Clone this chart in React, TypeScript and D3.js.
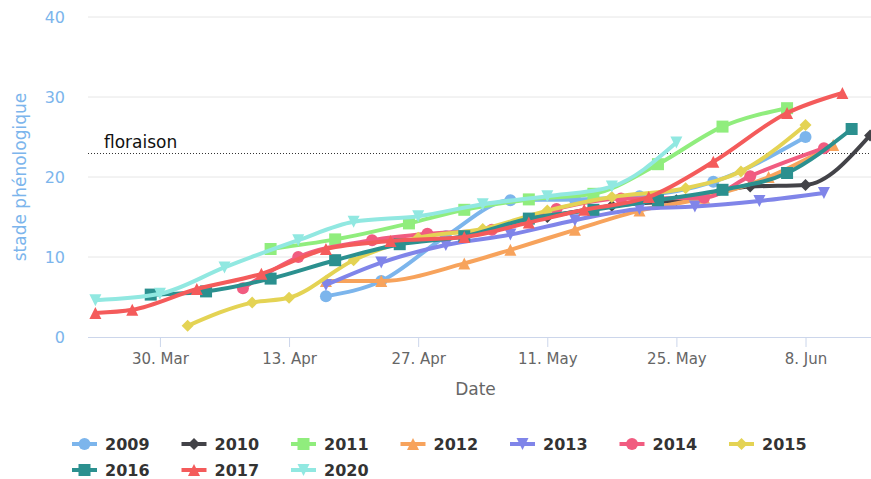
import React, { useEffect, useRef } from "react";
import * as d3 from "d3";

// data, dates normalised to 2020
const s2009 = [["2020-04-17", 5.1], ["2020-04-23", 7], ["2020-04-30", 12.6], ["2020-05-07", 17.1], ["2020-05-14", 17.2], ["2020-05-21", 17.6], ["2020-05-29", 19.4], ["2020-06-08", 25]];
const s2010 = [["2020-05-11", 15], ["2020-05-18", 16.4], ["2020-05-25", 17.1], ["2020-06-02", 18.8], ["2020-06-08", 19], ["2020-06-15", 25.2]];
const s2011 = [["2020-04-11", 11], ["2020-04-18", 12.2], ["2020-04-26", 14.2], ["2020-05-02", 15.9], ["2020-05-09", 17.2], ["2020-05-16", 17.9], ["2020-05-23", 21.6], ["2020-05-30", 26.3], ["2020-06-06", 28.6]];
const s2012 = [["2020-04-17", 7], ["2020-04-23", 7], ["2020-05-02", 9.2], ["2020-05-07", 10.9], ["2020-05-14", 13.4], ["2020-05-21", 15.8], ["2020-05-28", 17.4], ["2020-06-04", 20], ["2020-06-11", 24]];
const s2013 = [["2020-04-17", 6.5], ["2020-04-23", 9.3], ["2020-04-30", 11.5], ["2020-05-07", 12.8], ["2020-05-14", 14.6], ["2020-05-21", 16], ["2020-05-27", 16.3], ["2020-06-03", 17], ["2020-06-10", 18]];
const s2014 = [["2020-04-08", 6.1], ["2020-04-14", 10], ["2020-04-22", 12.1], ["2020-04-28", 12.9], ["2020-05-05", 13.4], ["2020-05-12", 16], ["2020-05-19", 17.3], ["2020-05-28", 17.4], ["2020-06-02", 20.1], ["2020-06-10", 23.6]];
const s2015 = [["2020-04-02", 1.4], ["2020-04-09", 4.3], ["2020-04-13", 4.9], ["2020-04-20", 9.6], ["2020-04-27", 12.4], ["2020-05-04", 13.5], ["2020-05-11", 15.8], ["2020-05-18", 17.5], ["2020-05-26", 18.6], ["2020-06-01", 20.7], ["2020-06-08", 26.5]];
const s2016 = [["2020-03-29", 5.3], ["2020-04-04", 5.7], ["2020-04-11", 7.3], ["2020-04-18", 9.6], ["2020-04-25", 11.6], ["2020-05-02", 12.6], ["2020-05-09", 14.8], ["2020-05-16", 15.9], ["2020-05-23", 17.1], ["2020-05-30", 18.4], ["2020-06-06", 20.5], ["2020-06-13", 26]];
const s2017 = [["2020-03-23", 3], ["2020-03-27", 3.4], ["2020-04-03", 6], ["2020-04-10", 7.9], ["2020-04-17", 11], ["2020-04-24", 12], ["2020-05-02", 12.5], ["2020-05-09", 14.3], ["2020-05-15", 15.9], ["2020-05-22", 17.5], ["2020-05-29", 21.9], ["2020-06-06", 28], ["2020-06-12", 30.5]];
const s2020 = [["2020-03-23", 4.6], ["2020-03-30", 5.4], ["2020-04-06", 8.7], ["2020-04-14", 12.1], ["2020-04-20", 14.4], ["2020-04-27", 15.1], ["2020-05-04", 16.6], ["2020-05-11", 17.6], ["2020-05-18", 18.8], ["2020-05-25", 24.3]];

const years = ["2009", "2010", "2011", "2012", "2013", "2014", "2015", "2016", "2017", "2020"];
const seriesData = [s2009, s2010, s2011, s2012, s2013, s2014, s2015, s2016, s2017, s2020];
const colors = ["#7cb5ec", "#434348", "#90ed7d", "#f7a35c", "#8085e9", "#f15c80", "#e4d354", "#2b908f", "#f45b5b", "#91e8e1"];
const symbols = ["circle", "diamond", "square", "triangle", "triangle-down"];

const xTicks = ["2020-03-30", "2020-04-13", "2020-04-27", "2020-05-11", "2020-05-25", "2020-06-08"];
const yTicks = [0, 10, 20, 30, 40];
const floraison = 23;

const parse = d3.utcParse("%Y-%m-%d");
const font = "'DejaVu Sans', sans-serif";

function marker(sel, kind, x, y, r, color) {
  if (kind === "circle") {
    sel.append("circle").attr("cx", x).attr("cy", y).attr("r", r).attr("fill", color);
  } else if (kind === "square") {
    sel.append("rect").attr("x", x - r).attr("y", y - r).attr("width", 2 * r).attr("height", 2 * r).attr("fill", color);
  } else if (kind === "diamond") {
    sel.append("path").attr("d", `M${x},${y - r}L${x + r},${y}L${x},${y + r}L${x - r},${y}Z`).attr("fill", color);
  } else if (kind === "triangle") {
    sel.append("path").attr("d", `M${x},${y - r}L${x + r},${y + r}L${x - r},${y + r}Z`).attr("fill", color);
  } else {
    sel.append("path").attr("d", `M${x - r},${y - r}L${x + r},${y - r}L${x},${y + r}Z`).attr("fill", color);
  }
}

export default function App() {
  const ref = useRef(null);

  useEffect(() => {
    const width = 871;
    const height = 479;
    const plot = { left: 88, right: 871, top: 17, bottom: 337 };

    const svg = d3.select(ref.current);
    svg.selectAll("*").remove();
    svg.attr("width", width).attr("height", height).style("font-family", font);

    const day = 864e5;
    const t0 = parse("2020-03-30").getTime();
    const x = d3.scaleUtc()
      .domain([new Date(t0 - 7.8 * day), new Date(t0 + 77.1 * day)])
      .range([plot.left, plot.right]);
    const y = d3.scaleLinear().domain([0, 40]).range([plot.bottom, plot.top]);

    // grid
    svg.append("g").selectAll("line").data(yTicks.filter((t) => t > 0)).enter().append("line")
      .attr("x1", plot.left).attr("x2", plot.right)
      .attr("y1", (d) => y(d)).attr("y2", (d) => y(d))
      .attr("stroke", "#e6e6e6").attr("stroke-width", 1);

    // y labels
    svg.append("g").selectAll("text").data(yTicks).enter().append("text")
      .attr("x", 65).attr("y", (d) => y(d) + 6)
      .attr("text-anchor", "end").attr("font-size", 16).attr("fill", "#7cb5ec")
      .text((d) => d);

    svg.append("text")
      .attr("transform", `translate(26,${(plot.top + plot.bottom) / 2}) rotate(-90)`)
      .attr("text-anchor", "middle").attr("font-size", 17).attr("fill", "#7cb5ec")
      .text("stade phénologique");

    // x axis
    const xAxis = d3.axisBottom(x)
      .tickValues(xTicks.map(parse))
      .tickFormat(d3.utcFormat("%-d. %b"))
      .tickSize(10).tickPadding(6);
    const xAxisG = svg.append("g").attr("transform", `translate(0,${plot.bottom})`).call(xAxis);
    xAxisG.select(".domain").attr("stroke", "#ccd6eb").attr("d", `M${plot.left},0.5H${plot.right}`);
    xAxisG.selectAll(".tick line").attr("stroke", "#ccd6eb");
    xAxisG.selectAll(".tick text").attr("fill", "#666666").attr("font-size", 15).attr("font-family", font);

    svg.append("text")
      .attr("x", (plot.left + plot.right) / 2 - 4).attr("y", 395)
      .attr("text-anchor", "middle").attr("font-size", 17).attr("fill", "#666666")
      .text("Date");

    // floraison plot line
    svg.append("line")
      .attr("x1", plot.left).attr("x2", plot.right)
      .attr("y1", Math.round(y(floraison)) + 0.5).attr("y2", Math.round(y(floraison)) + 0.5)
      .attr("stroke", "#333").attr("stroke-width", 1).attr("stroke-dasharray", "1,2");
    svg.append("text")
      .attr("x", 104).attr("y", y(floraison) - 5)
      .attr("font-size", 17).attr("fill", "#111")
      .text("floraison");

    // series
    const clipId = "plot-clip";
    svg.append("clipPath").attr("id", clipId).append("rect")
      .attr("x", plot.left - 10).attr("y", plot.top - 10)
      .attr("width", plot.right - plot.left + 20).attr("height", plot.bottom - plot.top + 20);

    const line = d3.line()
      .x((d) => x(parse(d[0])))
      .y((d) => y(d[1]))
      .curve(d3.curveMonotoneX);

    const seriesG = svg.append("g").attr("clip-path", `url(#${clipId})`);
    seriesData.forEach((data, i) => {
      const g = seriesG.append("g");
      g.append("path").attr("d", line(data))
        .attr("fill", "none").attr("stroke", colors[i]).attr("stroke-width", 4)
        .attr("stroke-linejoin", "round").attr("stroke-linecap", "round");
      data.forEach((d) => marker(g, symbols[i % 5], x(parse(d[0])), y(d[1]), 6, colors[i]));
    });

    // legend
    const legend = svg.append("g");
    years.forEach((yr, i) => {
      const row = i < 7 ? 0 : 1;
      const col = i < 7 ? i : i - 7;
      const lx = 72 + col * 109.5;
      const ly = row === 0 ? 444 : 470;
      const item = legend.append("g");
      item.append("line").attr("x1", lx).attr("x2", lx + 25).attr("y1", ly).attr("y2", ly)
        .attr("stroke", colors[i]).attr("stroke-width", 4);
      marker(item, symbols[i % 5], lx + 12.5, ly, 6, colors[i]);
      item.append("text").attr("x", lx + 33).attr("y", ly + 5.5)
        .attr("font-size", 16).attr("font-weight", "bold").attr("fill", "#333333")
        .text(yr);
    });
  }, []);

  return <svg ref={ref} style={{ position: "absolute", left: 0, top: 0 }} />;
}
